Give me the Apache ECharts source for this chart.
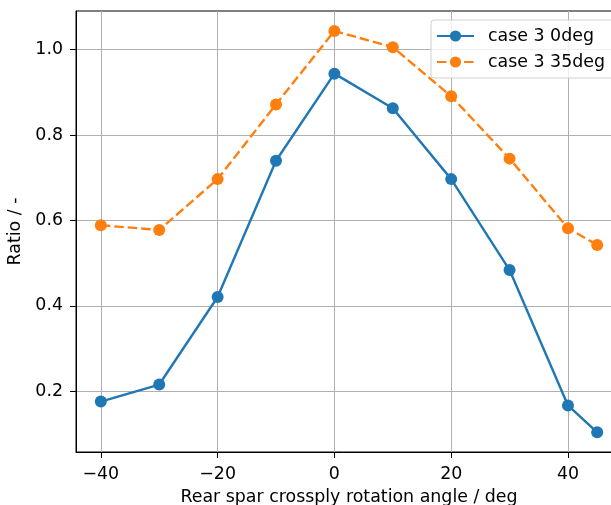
<!DOCTYPE html>
<html>
<head>
<meta charset="utf-8">
<script src="https://cdn.jsdelivr.net/npm/echarts@6/dist/echarts.min.js"></script>
<style>
html, body { margin: 0; padding: 0; background: #fff; }
#chart { width: 611px; height: 505px; }
</style>
</head>
<body>
<div id="chart"></div>
<script>
// angles of the rear spar crossply
var angles = [-40, -30, -20, -10, 0, 10, 20, 30, 40, 45];
var case0deg = [0.176, 0.216, 0.421, 0.740, 0.944, 0.863, 0.697, 0.484, 0.167, 0.104];
var case35deg = [0.589, 0.578, 0.697, 0.872, 1.044, 1.006, 0.891, 0.745, 0.582, 0.543];
var xTicks = [-40, -20, 0, 20, 40];
var yTicks = [0.2, 0.4, 0.6, 0.8, 1.0];

function pairs(xs, ys) {
    return xs.map(function (x, i) { return [x, ys[i]]; });
}

var font = 'DejaVu Sans';
var fs = 17.4;
var dom = document.getElementById('chart');
var myChart = echarts.init(dom, null, {renderer: 'canvas'});

var option = {
    animation: false,
    textStyle: {fontFamily: font},
    grid: {
        left: 76,
        top: 11,
        width: 546,
        height: 441,
        outerBoundsMode: 'none',
        containLabel: false,
        show: true,
        borderColor: '#000',
        borderWidth: 1
    },
    legend: {
        left: 431,
        top: 20,
        orient: 'vertical',
        padding: [7, 10, 7, 5],
        itemGap: 8,
        itemWidth: 37,
        itemHeight: 14,
        backgroundColor: 'rgba(255,255,255,0.8)',
        borderColor: '#d0d0d0',
        borderWidth: 1,
        borderRadius: 3,
        textStyle: {fontFamily: font, fontSize: fs, lineHeight: 18, color: '#000', padding: [0, 0, 0, 9]},
        data: ['case 3 0deg', 'case 3 35deg']
    },
    xAxis: {
        type: 'value',
        min: -44.25,
        max: 49.25,
        name: 'Rear spar crossply rotation angle / deg',
        nameLocation: 'middle',
        nameGap: 37,
        nameTextStyle: {fontFamily: font, fontSize: fs, color: '#000'},
        axisLine: {show: true, onZero: false, lineStyle: {color: '#000', width: 1}},
        axisTick: {show: true, length: 6, customValues: xTicks, lineStyle: {color: '#000'}},
        axisLabel: {customValues: xTicks, fontFamily: font, fontSize: fs, color: '#000', margin: 14,
            formatter: function (v) { return v < 0 ? '\u2212' + Math.abs(v) : '' + v; }},
        splitLine: {show: true, lineStyle: {color: '#b0b0b0', width: 1}}
    },
    yAxis: {
        type: 'value',
        min: 0.058,
        max: 1.0907,
        name: 'Ratio / -',
        nameLocation: 'middle',
        nameGap: 48,
        nameTextStyle: {fontFamily: font, fontSize: fs, color: '#000'},
        axisLine: {show: true, onZero: false, lineStyle: {color: '#000', width: 1}},
        axisTick: {show: true, length: 6, customValues: yTicks, lineStyle: {color: '#000'}},
        axisLabel: {customValues: yTicks, fontFamily: font, fontSize: fs, color: '#000', margin: 13,
            formatter: function (v) { return v.toFixed(1); }},
        splitLine: {show: true, lineStyle: {color: '#b0b0b0', width: 1}}
    },
    series: [
        {
            name: 'case 3 0deg',
            type: 'line',
            data: pairs(angles, case0deg),
            symbol: 'circle',
            symbolSize: 12,
            color: '#1f77b4',
            lineStyle: {width: 2.4, color: '#1f77b4'},
            itemStyle: {color: '#1f77b4'}
        },
        {
            name: 'case 3 35deg',
            type: 'line',
            data: pairs(angles, case35deg),
            symbol: 'circle',
            symbolSize: 12,
            color: '#ff7f0e',
            lineStyle: {width: 2.4, color: '#ff7f0e', type: [9.5, 4]},
            itemStyle: {color: '#ff7f0e'}
        }
    ]
};

if (option && typeof option === "object") {
    myChart.setOption(option, true);
}
</script>
</body>
</html>
